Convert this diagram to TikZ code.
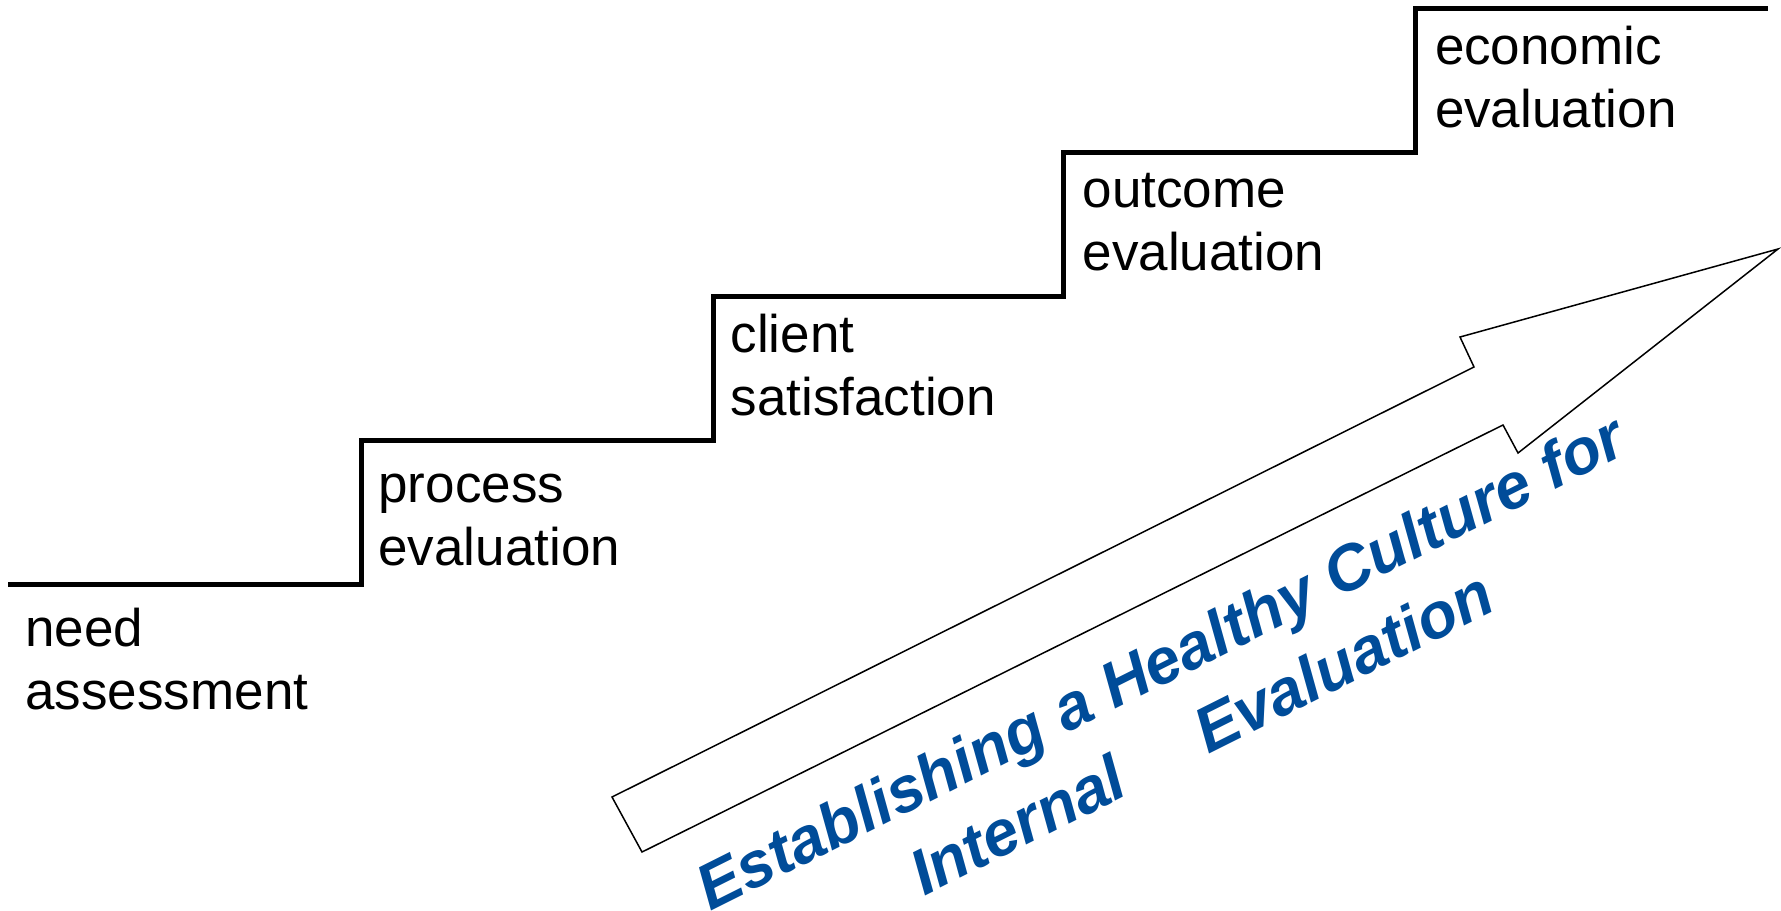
\documentclass[tikz,border=0pt]{standalone}
\usepackage{fontspec}
\setmainfont{Liberation Sans}
\definecolor{titleblue}{RGB}{0,76,153}
\begin{document}
\begin{tikzpicture}[x=0.5pt,y=-0.5pt,
  stair/.style={line width=2.5pt,line join=miter,line cap=butt},
  arrowshape/.style={draw=black,line width=0.75pt,line join=miter,fill=white},
  steplabel/.style={anchor=base west,inner sep=0pt,outer sep=0pt,font=\fontsize{26.5pt}{31.75pt}\selectfont},
  titletext/.style={anchor=base,inner sep=0pt,outer sep=0pt,rotate=26.57,text=titleblue,
     font=\fontsize{32pt}{39pt}\selectfont\bfseries\itshape}]
\useasboundingbox (0,0) rectangle (1781,910);
% staircase
\draw[stair] (8,584) -- (361,584) -- (361,440) -- (713,440) -- (713,296)
  -- (1063,296) -- (1063,152) -- (1415,152) -- (1415,8) -- (1768,8);
% labels
\node[steplabel] (need) at (25.5,646) {\vtop{\baselineskip=31.75pt\hbox{need}\hbox{assessment}}};
\node[steplabel] (process) at (378.5,502) {\vtop{\baselineskip=31.75pt\hbox{process}\hbox{evaluation}}};
\node[steplabel] (client) at (730.7,352) {\vtop{\baselineskip=31.75pt\hbox{client}\hbox{satisfaction}}};
\node[steplabel] (outcome) at (1082.6,207) {\vtop{\baselineskip=31.75pt\hbox{outcome}\hbox{evaluation}}};
\node[steplabel] (economic) at (1435,64) {\vtop{\baselineskip=31.75pt\hbox{economic}\hbox{evaluation}}};
% big arrow
\draw[arrowshape] (612,797) -- (1474,367) -- (1460,337) -- (1778,249)
  -- (1518,453) -- (1503,425) -- (642,852) -- cycle;
% title text
\node[titletext] (title1) at (1170,682) {Establishing a Healthy Culture for};
\node[titletext] (title2) at (1211,753) {Internal\hspace{1.36em}Evaluation};
\end{tikzpicture}
\end{document}
